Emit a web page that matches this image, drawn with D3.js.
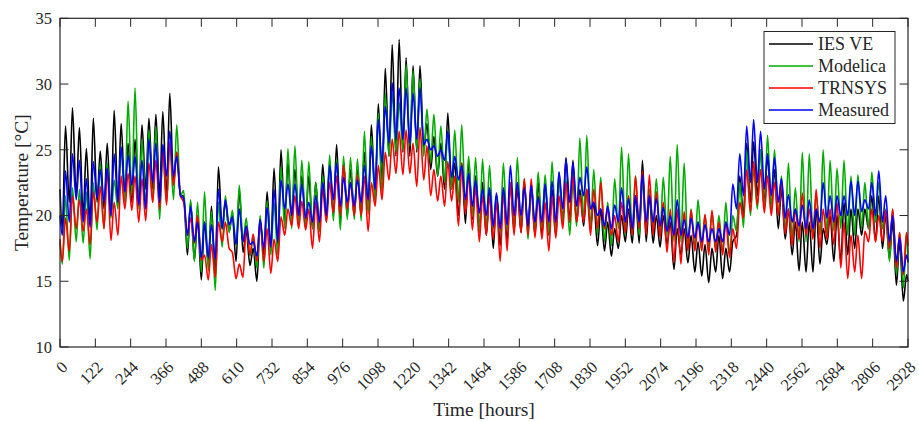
<!DOCTYPE html>
<html>
<head>
<meta charset="utf-8">
<script src="https://cdn.jsdelivr.net/npm/d3@7"></script>
<style>
  body { margin: 0; background: #fff; }
  svg text { font-family: "Times New Roman", "Liberation Serif", serif; fill: #262626; }
</style>
</head>
<body>
<div id="chart"></div>
<script>
// Env params
const width = 919;
const height = 421;
const margin = {left: 60, right: 11, top: 18.3, bottom: 74};
const axis_color = "#262626";

// series names and colours
const series_names = ["IES VE", "Modelica", "TRNSYS", "Measured"];
const series_colors = ["#000000", "#00aa00", "#ff0000", "#0000ff"];

// x ticks every 122 hours
const x_ticks = d3.range(0, 2929, 122);
const y_ticks = [10, 15, 20, 25, 30, 35];

// values at hour 0 and hour 2928
const start_values = [22.0, 18.0, 18.2, 20.0];
const end_values = [15.0, 16.4, 17.7, 16.5];

// daily maxima / minima (122 days)
const ies_high = [26.8, 28.2, 26.7, 25.1, 27.4, 24.9, 25.5, 28.0, 27.0, 25.5, 25.8, 26.9, 27.4, 27.7, 27.9, 29.3, 24.8,
  21.5, 21.0, 19.8, 19.5, 20.7, 23.7, 21.0, 20.0, 22.0, 18.8, 17.5, 19.5, 21.8, 23.6, 25.0, 24.0, 23.5, 23.0, 23.0,
  22.5, 23.9, 24.0, 25.4, 24.0, 23.5, 23.5, 24.8, 26.9,
  28.5, 31.2, 33.0, 33.4, 32.0, 31.4, 31.4, 27.0, 26.0,
  25.5, 27.8, 24.0, 24.0, 24.1, 23.0, 22.5, 22.0, 21.5,
  22.0, 22.5, 22.0, 22.5, 22.0, 22.5, 22.5, 22.0, 23.0,
  24.4, 24.2, 22.0, 22.0, 21.0, 20.5, 19.5, 19.0, 20.0,
  20.5, 21.5, 24.2, 21.5, 20.0, 20.0, 19.5, 19.0, 19.0,
  18.5, 18.0, 17.8, 17.5, 18.5, 17.5, 18.0, 23.0, 25.5,
  25.6, 25.0, 24.5, 23.5, 22.0, 20.5, 19.5, 19.5, 19.5,
  20.5, 19.0, 20.0, 20.0, 21.0, 20.5, 20.5, 20.5, 21.5,
  21.5, 20.0, 19.5, 18.0, 15.5];
const ies_low = [19.0, 21.0, 21.5, 20.0, 19.5, 21.0, 20.5, 20.0, 21.0, 21.5, 21.0, 21.0, 22.0, 22.0, 21.5, 21.5, 22.5,
  21.5, 17.0, 16.6, 15.1, 16.3, 15.5, 19.0, 18.8, 16.5, 17.2, 16.2, 15.0, 17.0, 17.5, 17.8, 19.5, 20.0, 20.0, 19.5,
  19.0, 19.0, 19.8, 20.0, 19.5, 20.0, 20.0, 20.0, 20.5,
  21.5, 22.5, 24.5, 24.5, 24.8, 24.5, 24.8, 25.0, 23.5,
  23.0, 22.0, 22.0, 20.0, 19.4, 19.7, 19.0, 18.5, 17.5,
  17.7, 18.0, 19.0, 18.7, 19.0, 18.5, 18.5, 18.5, 18.5,
  19.5, 19.5, 19.5, 19.2, 19.2, 17.7, 17.3, 16.9, 17.5,
  18.0, 17.9, 17.9, 18.0, 17.9, 17.6, 17.8, 15.9, 17.0,
  16.4, 15.7, 15.4, 14.9, 15.7, 15.2, 15.7, 18.5, 20.0,
  21.0, 21.5, 21.0, 20.5, 19.0, 18.2, 17.0, 15.8, 15.7,
  15.7, 16.3, 17.8, 16.5, 16.5, 17.0, 17.5, 18.5, 19.0,
  18.0, 17.5, 16.7, 14.7, 13.5];

const modelica_high = [21.5, 22.1, 22.0, 21.8, 22.5, 24.0, 24.0, 22.7, 25.1, 28.7, 29.7, 25.8, 26.5, 26.8, 25.0, 25.5, 26.9,
  21.9, 21.2, 21.0, 21.8, 20.3, 21.0, 21.5, 20.4, 22.3, 19.8, 18.3, 20.0, 21.1, 21.0, 23.7, 25.1, 25.3, 24.2, 24.1,
  22.5, 23.0, 24.6, 24.3, 24.5, 24.4, 24.3, 26.4, 26.0,
  27.8, 29.3, 29.3, 28.6, 31.5, 31.0, 30.4, 28.1, 27.7,
  26.8, 26.5, 26.5, 26.9, 24.5, 24.4, 24.3, 23.8, 21.5,
  24.0, 22.5, 24.4, 22.8, 22.5, 23.3, 23.1, 24.1, 23.3,
  22.8, 22.5, 25.9, 26.1, 23.5, 22.9, 21.0, 22.8, 25.2,
  24.7, 23.0, 22.5, 22.0, 22.8, 22.9, 24.5, 25.4, 24.0,
  20.5, 21.2, 20.0, 20.2, 20.0, 21.0, 20.0, 22.5, 25.0,
  23.5, 25.0, 26.1, 25.0, 23.0, 24.0, 22.1, 24.8, 24.7,
  21.6, 25.0, 24.2, 23.6, 24.2, 23.0, 23.1, 22.5, 23.3,
  22.5, 20.5, 20.5, 18.7, 18.7];
const modelica_low = [16.3, 16.6, 18.0, 17.9, 16.7, 18.9, 19.0, 19.8, 20.5, 21.0, 21.5, 20.5, 20.8, 21.0, 19.7, 21.0, 21.2,
  21.5, 17.5, 16.5, 15.7, 15.8, 14.3, 17.6, 18.7, 17.7, 18.0, 16.9, 16.0, 16.0, 17.0, 17.0, 19.0, 19.0, 19.3, 19.0,
  19.0, 18.8, 19.5, 19.6, 18.9, 19.7, 19.7, 19.6, 20.1,
  21.0, 21.7, 24.5, 24.8, 25.0, 25.3, 25.0, 24.5, 24.0,
  23.0, 22.5, 22.0, 21.0, 20.7, 19.9, 18.7, 19.0, 19.0,
  18.8, 18.8, 18.7, 18.9, 18.2, 18.7, 19.0, 18.6, 18.8,
  19.5, 18.5, 19.2, 19.5, 19.0, 18.5, 18.0, 17.7, 19.0,
  18.5, 18.5, 18.5, 19.2, 19.0, 18.5, 18.5, 18.0, 18.0,
  17.5, 17.5, 17.7, 17.5, 17.5, 17.2, 17.0, 18.8, 19.1,
  20.0, 20.5, 20.5, 20.5, 20.0, 18.8, 18.2, 18.0, 18.0,
  18.5, 18.5, 18.5, 18.8, 19.0, 18.5, 18.5, 19.0, 19.0,
  19.5, 19.0, 16.5, 15.5, 14.5];

const trnsys_high = [19.8, 21.5, 21.2, 20.5, 21.8, 22.2, 23.5, 21.0, 23.0, 23.2, 23.0, 22.8, 24.0, 24.2, 25.0, 25.6, 24.8,
  21.0, 19.8, 20.0, 17.0, 17.8, 19.5, 19.5, 17.2, 16.3, 19.2, 18.6, 19.7, 19.0, 18.2, 19.9, 20.5, 21.5, 21.1, 20.5,
  21.0, 22.0, 22.5, 23.0, 23.8, 22.5, 23.1, 23.0, 22.5,
  23.8, 24.8, 25.8, 26.4, 26.5, 25.5, 26.7, 25.3, 23.5,
  23.0, 24.1, 23.0, 24.0, 23.0, 22.2, 21.5, 21.5, 21.0,
  22.0, 22.5, 22.5, 22.8, 22.8, 21.5, 21.0, 21.5, 21.5,
  22.5, 23.0, 21.5, 22.0, 22.0, 22.5, 20.5, 20.0, 21.0,
  21.5, 23.0, 23.4, 23.1, 21.8, 21.0, 20.5, 20.5, 20.3,
  20.4, 19.5, 20.1, 20.4, 19.5, 19.5, 19.0, 21.0, 23.5,
  24.1, 23.5, 23.0, 22.5, 22.4, 20.5, 20.5, 21.7, 20.5,
  22.0, 20.5, 20.5, 21.0, 19.5, 18.5, 18.5, 18.8, 20.5,
  20.0, 20.4, 20.5, 18.7, 18.7];
const trnsys_low = [16.5, 17.3, 19.0, 18.8, 17.8, 19.5, 19.0, 18.1, 18.5, 20.5, 20.4, 19.5, 19.6, 21.0, 20.5, 20.8, 22.3,
  21.5, 18.5, 17.9, 16.6, 15.1, 15.3, 18.0, 17.5, 15.2, 15.3, 17.0, 16.5, 16.5, 15.6, 16.5, 18.5, 19.2, 19.0, 18.9,
  17.5, 18.0, 19.5, 20.2, 20.0, 20.5, 20.0, 20.0, 18.8,
  20.7, 21.2, 22.7, 23.2, 23.1, 23.2, 22.2, 22.7, 21.5,
  21.1, 20.7, 21.1, 19.2, 20.1, 18.9, 18.0, 18.5, 18.2,
  16.5, 17.3, 18.5, 18.7, 18.5, 18.3, 18.2, 17.3, 18.3,
  19.0, 19.5, 19.5, 19.5, 18.5, 19.0, 19.0, 18.5, 18.0,
  18.7, 18.5, 19.0, 18.5, 18.5, 18.3, 17.2, 16.4, 16.3,
  17.3, 17.3, 17.3, 17.0, 17.2, 17.0, 16.8, 17.5, 19.8,
  20.3, 20.8, 20.2, 20.0, 20.0, 18.6, 17.7, 18.2, 18.5,
  18.2, 17.5, 18.2, 17.8, 16.0, 15.2, 15.7, 15.2, 18.0,
  18.0, 18.0, 17.5, 16.0, 15.5];

const measured_high = [23.4, 24.7, 24.2, 22.8, 24.1, 23.5, 23.6, 24.7, 25.2, 24.6, 24.5, 24.2, 25.8, 25.5, 25.4, 26.4, 24.5,
  21.3, 20.7, 19.5, 19.5, 19.3, 22.0, 21.2, 19.9, 20.5, 19.2, 18.0, 19.7, 20.6, 22.0, 22.7, 22.4, 22.4, 22.4, 21.0,
  21.5, 22.5, 23.8, 24.0, 22.9, 22.5, 22.7, 23.8, 25.3,
  27.3, 28.3, 30.1, 29.7, 29.7, 29.3, 29.7, 25.8, 25.3,
  25.0, 26.4, 24.5, 23.8, 23.2, 22.7, 22.0, 22.1, 21.7,
  22.1, 23.8, 22.5, 22.1, 22.3, 21.4, 22.4, 22.6, 23.3,
  24.3, 24.0, 22.9, 23.7, 21.0, 20.5, 20.7, 20.8, 22.1,
  21.3, 21.5, 23.1, 21.5, 21.3, 20.6, 20.0, 21.2, 19.7,
  19.8, 19.5, 19.3, 19.0, 19.0, 19.5, 22.4, 24.7, 26.8,
  27.3, 26.4, 24.7, 24.4, 22.8, 21.6, 20.5, 20.8, 21.2,
  20.5, 22.5, 21.5, 21.5, 21.5, 22.6, 22.6, 21.2, 22.5,
  23.4, 21.5, 20.0, 18.3, 17.0];
const measured_low = [18.5, 19.5, 21.2, 19.5, 19.1, 21.3, 21.0, 20.0, 21.0, 21.8, 22.3, 20.8, 20.5, 22.5, 21.0, 23.0, 23.0,
  21.5, 18.5, 18.0, 16.8, 16.8, 16.7, 19.0, 19.3, 17.8, 18.0, 17.8, 16.9, 17.5, 17.6, 18.0, 20.5, 20.0, 20.0, 19.8,
  19.5, 19.5, 20.0, 21.2, 20.7, 21.0, 20.7, 21.0, 21.2,
  22.0, 24.0, 25.5, 25.8, 25.8, 25.5, 25.8, 25.4, 25.0,
  24.5, 24.2, 22.9, 22.7, 21.2, 20.7, 20.2, 20.0, 19.2,
  19.0, 19.3, 20.0, 20.0, 19.2, 19.5, 19.5, 19.5, 19.5,
  20.5, 21.0, 20.7, 21.5, 20.5, 20.0, 19.2, 19.0, 19.5,
  19.5, 19.0, 19.5, 19.5, 19.5, 19.2, 18.8, 18.5, 18.5,
  18.3, 18.3, 18.0, 18.0, 18.0, 18.0, 18.5, 20.5, 21.5,
  22.5, 22.5, 22.0, 21.5, 21.0, 19.8, 19.5, 19.2, 19.0,
  19.0, 19.5, 19.8, 19.5, 20.0, 20.0, 20.0, 20.3, 20.5,
  20.0, 19.5, 18.0, 16.5, 15.7];

const highs = [ies_high, modelica_high, trnsys_high, measured_high];
const lows = [ies_low, modelica_low, trnsys_low, measured_low];

// build hourly points: minimum in the morning, maximum in the evening
function build_series(i)
{
  var pts = [{h: 0, v: start_values[i]}];
  for (var d = 0; d < highs[i].length; d++) {
    pts.push({h: d*24 + 8, v: lows[i][d]});
    pts.push({h: d*24 + 19, v: highs[i][d]});
  }
  pts.push({h: 2928, v: end_values[i]});
  return pts;
}

// draw svg canvas
var svg = d3.select('#chart').append('svg')
  .attr('width', width)
  .attr('height', height);

var x = d3.scaleLinear().domain([0, 2928]).range([margin.left, width - margin.right]);
var y = d3.scaleLinear().domain([10, 35]).range([height - margin.bottom, margin.top]);

// lines
var line = d3.line()
  .x(d => x(d.h))
  .y(d => y(d.v))
  .curve(d3.curveMonotoneX);

var lines_g = svg.append('g');
series_names.forEach(function(name, i) {
  lines_g.append('path')
    .datum(build_series(i))
    .attr('fill', 'none')
    .attr('stroke', series_colors[i])
    .attr('stroke-width', 1.6)
    .attr('stroke-linejoin', 'round')
    .attr('d', line);
});

// axes box
var tick_len = 8.5;
svg.append('rect')
  .attr('x', x(0))
  .attr('y', y(35))
  .attr('width', x(2928) - x(0))
  .attr('height', y(10) - y(35))
  .attr('fill', 'none')
  .attr('stroke', axis_color)
  .attr('stroke-width', 1.2);

// ticks pointing inward on all four sides
var ax = svg.append('g').attr('stroke', axis_color).attr('stroke-width', 1);
x_ticks.forEach(function(t) {
  ax.append('line').attr('x1', x(t)).attr('x2', x(t)).attr('y1', y(10)).attr('y2', y(10) - tick_len);
  ax.append('line').attr('x1', x(t)).attr('x2', x(t)).attr('y1', y(35)).attr('y2', y(35) + tick_len);
});
y_ticks.forEach(function(t) {
  ax.append('line').attr('x1', x(0)).attr('x2', x(0) + tick_len).attr('y1', y(t)).attr('y2', y(t));
  ax.append('line').attr('x1', x(2928)).attr('x2', x(2928) - tick_len).attr('y1', y(t)).attr('y2', y(t));
});

// tick labels
svg.append('g').selectAll('text')
  .data(y_ticks)
  .enter().append('text')
  .attr('x', x(0) - 8)
  .attr('y', d => y(d))
  .attr('dy', '0.35em')
  .attr('text-anchor', 'end')
  .style('font-size', '16.5px')
  .text(d => d);

svg.append('g').selectAll('text')
  .data(x_ticks)
  .enter().append('text')
  .attr('transform', d => `translate(${x(d) + 4.5}, ${y(10) + 17}) rotate(-45)`)
  .attr('dy', '0.35em')
  .attr('text-anchor', 'end')
  .style('font-size', '16.5px')
  .text(d => d);

// axis titles
svg.append('text')
  .attr('x', (x(0) + x(2928)) / 2)
  .attr('y', 416)
  .attr('text-anchor', 'middle')
  .style('font-size', '19.5px')
  .text('Time [hours]');

svg.append('text')
  .attr('transform', `translate(28, ${(y(10) + y(35)) / 2}) rotate(-90)`)
  .attr('text-anchor', 'middle')
  .style('font-size', '19.5px')
  .text('Temperature [°C]');

// legend
var legend = svg.append('g');
legend.append('rect')
  .attr('x', 764)
  .attr('y', 31.5)
  .attr('width', 131)
  .attr('height', 92)
  .attr('fill', '#fff')
  .attr('stroke', axis_color)
  .attr('stroke-width', 1);

series_names.forEach(function(name, i) {
  var ly = 44 + i*22;
  legend.append('line')
    .attr('x1', 769).attr('x2', 813)
    .attr('y1', ly).attr('y2', ly)
    .attr('stroke', series_colors[i])
    .attr('stroke-width', 1.6);
  legend.append('text')
    .attr('x', 818)
    .attr('y', ly)
    .attr('dy', '0.35em')
    .style('font-size', '18px')
    .text(name);
});
</script>
</body>
</html>
